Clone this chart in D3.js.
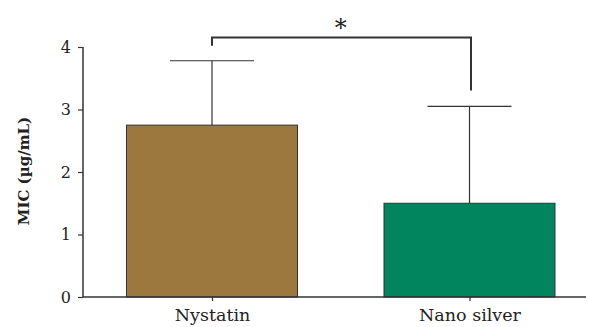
<!DOCTYPE html>
<html><head><meta charset="utf-8">
<script src="https://cdn.jsdelivr.net/npm/d3@7"></script>
<style>body{margin:0;background:#fff}</style>
</head><body>
<svg id="c" width="589" height="327"></svg>
<script>
const categories = ["Nystatin", "Nano silver"];
const means = [2.75, 1.5];
const errorTops = [3.78, 3.05];
const colors = ["#9c783f", "#00855f"];
const yTicks = [0, 1, 2, 3, 4];
const sigLabel = "*";

const svg = d3.select("#c");
const y = d3.scaleLinear().domain([0, 4]).range([297, 47]);
const bw = 171;
const xc = d3.scalePoint().domain(categories).range([212, 469.5]);

const font = "'DejaVu Serif', 'Liberation Serif', serif";

// bars
svg.selectAll("rect.bar").data(categories).enter().append("rect")
  .attr("x", (d) => xc(d) - bw/2).attr("width", bw)
  .attr("y", (d,i) => y(means[i])).attr("height", (d,i) => y(0) - y(means[i]))
  .attr("fill", (d,i) => colors[i]).attr("stroke", "#333").attr("stroke-width", 1);

// error bars
categories.forEach((d,i) => {
  svg.append("line").attr("x1", xc(d)).attr("x2", xc(d))
    .attr("y1", y(means[i])).attr("y2", y(errorTops[i])).attr("stroke", "#333").attr("stroke-width", 1.2);
  svg.append("line").attr("x1", xc(d) - 42).attr("x2", xc(d) + 42)
    .attr("y1", y(errorTops[i])).attr("y2", y(errorTops[i])).attr("stroke", "#333").attr("stroke-width", 1.2);
});

// axes
const yAxis = d3.axisLeft(y).tickValues(yTicks).tickSize(5).tickPadding(7).tickFormat(d3.format("d"));
const gy = svg.append("g").attr("transform", "translate(83,0)").call(yAxis);
gy.select(".domain").attr("d", `M-0,${y(4)}V${y(0)}`).attr("stroke", "#333").attr("stroke-width", 1.5);
gy.selectAll(".tick line").attr("stroke", "#333").attr("stroke-width", 1.2);
gy.selectAll("text").attr("font-family", font).attr("font-size", 16).attr("fill", "#222");

const gx = svg.append("g").attr("transform", `translate(0,${y(0)})`)
  .call(d3.axisBottom(xc).tickSize(4).tickPadding(7));
gx.select(".domain").attr("d", "M83,0H586").attr("stroke", "#333").attr("stroke-width", 1.5);
gx.selectAll(".tick line").attr("stroke", "#333").attr("stroke-width", 1.2);
gx.selectAll("text").attr("font-family", font).attr("font-size", 17.5).attr("fill", "#222").attr("dy", "0.75em");

// y label
svg.append("text").attr("transform", `translate(29,171) rotate(-90)`)
  .attr("text-anchor", "middle").attr("font-family", font).attr("font-weight", "bold")
  .attr("font-size", 15).attr("fill", "#222").text("MIC (µg/mL)");

// significance bracket
const bTop = 37.5;
svg.append("path")
  .attr("d", `M${xc(categories[0])},${y(errorTops[0]) - 15}V${bTop}H${xc(categories[1]) + 1.5}V${y(errorTops[1]) - 16}`)
  .attr("fill", "none").attr("stroke", "#333").attr("stroke-width", 2);
svg.append("text").attr("x", (xc(categories[0]) + xc(categories[1])) / 2).attr("y", 36)
  .attr("text-anchor", "middle").attr("font-family", font).attr("font-size", 24).attr("fill", "#222").text(sigLabel);
</script>
</body></html>
